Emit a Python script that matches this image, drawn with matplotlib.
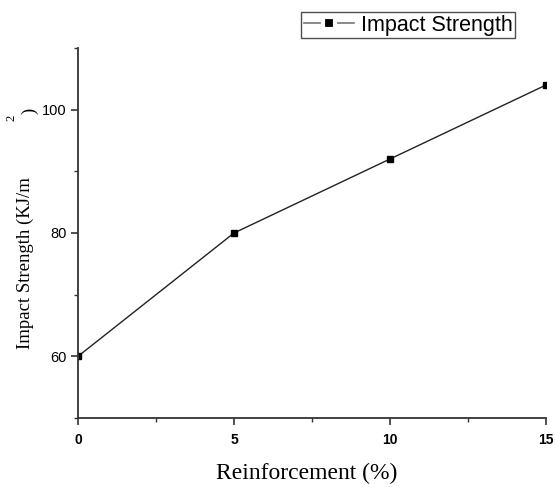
import matplotlib
matplotlib.use("Agg")
import matplotlib.pyplot as plt
from matplotlib.ticker import MultipleLocator
from matplotlib.lines import Line2D

reinforcement = [0, 5, 10, 15]
impact_strength = [60, 80, 92, 104]
series_label = "Impact Strength"
x_label = "Reinforcement (%)"
y_label_main = "Impact Strength (KJ/m"

W, H = 555, 487
fig = plt.figure(figsize=(W / 100, H / 100), dpi=100)
ax = fig.add_axes([78 / W, 1 - 418 / H, (546 - 78) / W, (418 - 48) / H])

ax.plot(reinforcement, impact_strength, color="#222222", lw=1.0,
        marker="s", markersize=5, markerfacecolor="black",
        markeredgecolor="black", label=series_label, clip_on=True, zorder=3)

ax.set_xlim(0, 15)
ax.set_ylim(50, 110)
ax.xaxis.set_major_locator(MultipleLocator(5))
ax.xaxis.set_minor_locator(MultipleLocator(2.5))
ax.yaxis.set_minor_locator(MultipleLocator(10))
ax.set_yticks([60, 80, 100])

for s in ["top", "right"]:
    ax.spines[s].set_visible(False)
for s in ["left", "bottom"]:
    ax.spines[s].set_color("#333333")
    ax.spines[s].set_linewidth(1.3)
    ax.spines[s].set_zorder(4)

ax.tick_params(which="major", direction="out", length=5, width=1.2, color="#333333")
ax.tick_params(which="minor", direction="out", length=3, width=1.0, color="#333333")
ax.tick_params(axis="y", pad=3)
ax.tick_params(axis="x", pad=6)

for lab in ax.get_xticklabels():
    lab.set_fontfamily("Liberation Sans")
    lab.set_fontweight("bold")
    lab.set_fontsize(10)
for lab in ax.get_yticklabels():
    lab.set_fontfamily("Liberation Sans")
    lab.set_fontsize(10.5)

fig.text(0.5 * (212 + 402) / W, 1 - 473 / H, x_label, family="Liberation Serif",
         fontsize=17, ha="center", va="center")

fig.text(25 / W, 1 - 263.5 / H, y_label_main, family="Liberation Serif",
         fontsize=13.5, rotation=90, ha="center", va="center")
fig.text(11 / W, 1 - 118 / H, "2", family="Liberation Serif",
         fontsize=9, rotation=90, ha="center", va="center")
fig.text(30 / W, 1 - 111 / H, ")", family="Liberation Serif",
         fontsize=13.5, rotation=90, ha="center", va="center")

handle = Line2D([], [], color="#777777", lw=1.2, marker="s", markersize=8,
                markerfacecolor="black", markeredgecolor="white",
                markeredgewidth=3)
leg = fig.legend([handle], [series_label],
                 loc="upper right", bbox_to_anchor=(515 / W, 1 - 12 / H),
                 frameon=True, fancybox=False, borderaxespad=0,
                 prop={"family": "Liberation Sans", "size": 15.5},
                 handlelength=2.3, handletextpad=0.33, borderpad=0.12)
frame = leg.get_frame()
frame.set_edgecolor("#222222")
frame.set_linewidth(1.0)

fig.savefig("out.png", dpi=100)
